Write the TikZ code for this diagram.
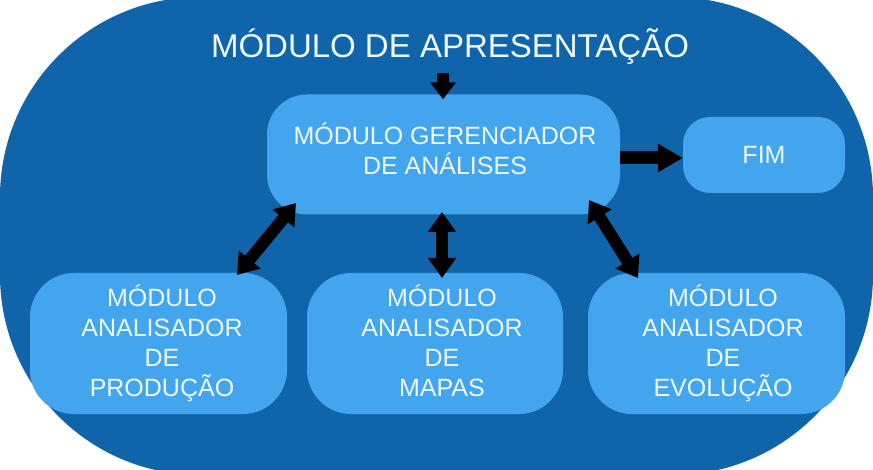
\documentclass[tikz,border=0pt]{standalone}
\usepackage{fontspec}
\setmainfont{Liberation Sans}
\usetikzlibrary{arrows.meta}
\definecolor{outerblue}{RGB}{16,101,170}
\definecolor{boxblue}{RGB}{66,165,238}
\definecolor{txtwhite}{RGB}{240,248,255}
\begin{document}
\begin{tikzpicture}[x=1pt,y=-1pt,
  box/.style={fill=boxblue, draw=none, rounded corners=#1, inner sep=0pt},
  boxtext/.style={text=txtwhite, align=center, inner sep=0pt, font=\fontsize{25}{30}\selectfont},
  arr/.style={line width=12pt, draw=black, -{Triangle[width=25pt,length=17pt]}},
  arrlong/.style={line width=13pt, draw=black, -{Triangle[width=27pt,length=25pt]}},
  dblarr/.style={line width=12pt, draw=black, {Triangle[width=27pt,length=20pt]}-{Triangle[width=27pt,length=20pt]}}
]
\useasboundingbox (0,0) rectangle (873,470);
\fill[white] (0,0) rectangle (873,470);
\fill[outerblue, rounded corners=200pt] (0,-3) rectangle (873,475);

% title
\node[text=txtwhite, anchor=base, inner sep=0pt, font=\fontsize{33}{38}\selectfont] (title) at (450,58) {MÓDULO DE APRESENTAÇÃO};

% boxes
\node[box=40pt, minimum width=353pt, minimum height=120pt] (cent) at (443.5,154.5) {};
\node[boxtext] (centT) at (445,149) {MÓDULO GERENCIADOR\\DE ANÁLISES};

\node[box=27pt, minimum width=162pt, minimum height=76pt] (fim) at (764,155) {};
\node[boxtext] (fimT) at (764,155) {FIM};

\node[box=44pt, minimum width=257pt, minimum height=141pt] (prod) at (158.5,343.5) {};
\node[boxtext] (prodT) at (162,343) {MÓDULO\\ANALISADOR\\DE\\PRODUÇÃO};

\node[box=44pt, minimum width=256pt, minimum height=141pt] (mapas) at (435,343.5) {};
\node[boxtext] (mapasT) at (442,341) {MÓDULO\\ANALISADOR\\DE\\MAPAS};

\node[box=44pt, minimum width=257pt, minimum height=141pt] (evol) at (716.5,343.5) {};
\node[boxtext] (evolT) at (723,343) {MÓDULO\\ANALISADOR\\DE\\EVOLUÇÃO};

% arrow end points
\coordinate (a0) at (443,73);
\coordinate (l1) at (296,203);
\coordinate (l2) at (237,275);
\coordinate (m1) at (442,212);
\coordinate (m2) at (442,278);
\coordinate (r1) at (589,200);
\coordinate (r2) at (638,278);

\draw[arr] (a0) -- ([xshift=-0.5pt,yshift=-5pt]cent.north);
\draw[arrlong] ([yshift=-3.5pt]cent.east) -- ([yshift=-3pt]fim.west);
\draw[dblarr] (l1) -- (l2);
\draw[dblarr] (m1) -- (m2);
\draw[dblarr] (r1) -- (r2);
\end{tikzpicture}
\end{document}
